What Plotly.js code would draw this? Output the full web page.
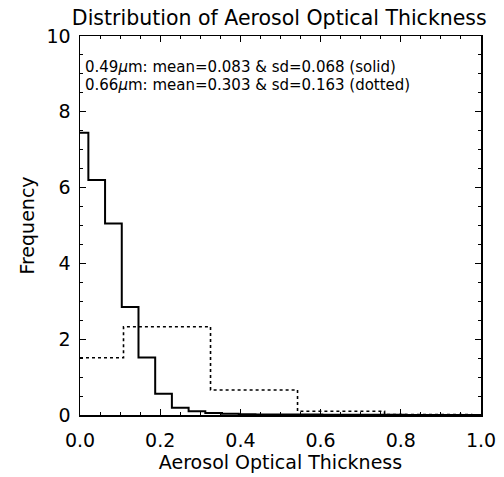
<!DOCTYPE html>
<html>
<head>
<meta charset="utf-8">
<script src="https://cdn.plot.ly/plotly-3.0.1.min.js"></script>
<style>html,body{margin:0;padding:0;background:#fff;}#chart{width:504px;height:477px;}</style>
</head>
<body>
<div id="chart"></div>
<script>
// Solid series (0.49 um): bin centres and frequencies
const solidX = [0.0000, 0.0417, 0.0833, 0.1250, 0.1667, 0.2083, 0.2500, 0.2917, 0.3333, 0.3750,
                0.4167, 0.4583, 0.5000, 0.5417, 0.5833, 0.6250, 0.6667, 0.7083, 0.7500, 0.7917,
                0.8333, 0.8750, 0.9167, 0.9583, 1.0000];
const solidY = [7.45, 6.20, 5.05, 2.85, 1.52, 0.56, 0.19, 0.10, 0.05, 0.03,
                0.02, 0.015, 0.01, 0.01, 0.01, 0.005, 0.005, 0.005, 0.005, 0.005,
                0.003, 0.003, 0.003, 0.003, 0.003];
// Dotted series (0.66 um)
const dotX = [0.000, 0.217, 0.434, 0.651, 0.868, 1.085];
const dotY = [1.51, 2.33, 0.66, 0.10, 0.01, 0.005];

const titleText = "Distribution of Aerosol Optical Thickness";
const xTitle = "Aerosol Optical Thickness";
const yTitle = "Frequency";
const note1 = "0.49<i>μ</i>m: mean=0.083 &amp; sd=0.068 (solid)";
const note2 = "0.66<i>μ</i>m: mean=0.303 &amp; sd=0.163 (dotted)";
const xTicks = [0, 0.2, 0.4, 0.6, 0.8, 1.0];
const xTickText = ["0.0", "0.2", "0.4", "0.6", "0.8", "1.0"];
const yTicks = [0, 2, 4, 6, 8, 10];

const FONT = "DejaVu Sans, sans-serif";

const traces = [
  {x: dotX, y: dotY, mode: "lines", line: {shape: "hvh", color: "#000", width: 1.6, dash: "dot"}, hoverinfo: "skip"},
  {x: solidX, y: solidY, mode: "lines", line: {shape: "hvh", color: "#000", width: 2}, hoverinfo: "skip"}
];

const layout = {
  width: 504, height: 477,
  margin: {l: 80, r: 23, t: 36, b: 62, pad: 0},
  paper_bgcolor: "#fff", plot_bgcolor: "#fff",
  showlegend: false,
  font: {family: FONT, color: "#000", size: 15},
  title: {text: titleText, font: {family: FONT, size: 20.5, color: "#000"}, x: 0.497, xanchor: "center", xref: "paper", y: 0.962, yanchor: "middle"},
  xaxis: {
    range: [0, 1], tickvals: xTicks, ticktext: xTickText,
    showline: true, linecolor: "#000", linewidth: 1.5, mirror: "ticks",
    ticks: "inside", ticklen: 6, tickcolor: "#000", tickwidth: 1,
    minor: {dtick: 0.05, ticks: "inside", ticklen: 3, tickcolor: "#000", tickwidth: 1},
    showgrid: false, zeroline: false,
    ticklabelstandoff: 8,
    tickfont: {family: FONT, size: 19, color: "#000"},
    title: {text: xTitle, font: {family: FONT, size: 19, color: "#000"}, standoff: 0}
  },
  yaxis: {
    range: [0, 10], tickvals: yTicks,
    showline: true, linecolor: "#000", linewidth: 1.5, mirror: "ticks",
    ticks: "inside", ticklen: 6, tickcolor: "#000", tickwidth: 1,
    minor: {dtick: 0.5, ticks: "inside", ticklen: 3, tickcolor: "#000", tickwidth: 1},
    showgrid: false, zeroline: false,
    ticklabelstandoff: 4,
    tickfont: {family: FONT, size: 19, color: "#000"},
    title: {text: yTitle, font: {family: FONT, size: 19, color: "#000"}, standoff: 7}
  },
  annotations: [
    {text: note1, xref: "paper", yref: "paper", x: 0.008, y: 0.918, xanchor: "left", yanchor: "middle", showarrow: false, font: {family: FONT, size: 15, color: "#000"}},
    {text: note2, xref: "paper", yref: "paper", x: 0.008, y: 0.872, xanchor: "left", yanchor: "middle", showarrow: false, font: {family: FONT, size: 15, color: "#000"}}
  ]
};

Plotly.newPlot("chart", traces, layout, {displayModeBar: false, staticPlot: true});
</script>
</body>
</html>
